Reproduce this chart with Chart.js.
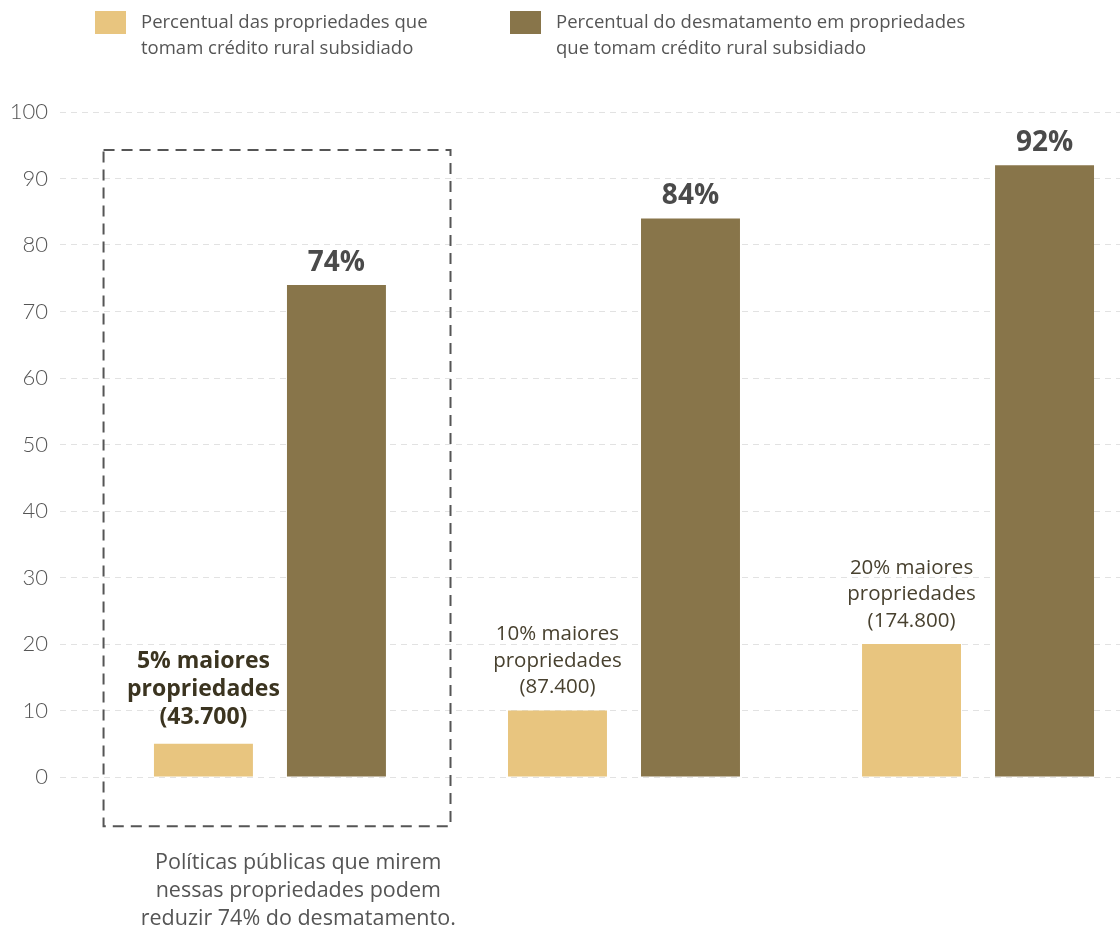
<!DOCTYPE html>
<html>
<head>
<meta charset="utf-8">
<script src="https://cdn.jsdelivr.net/npm/chart.js@4/dist/chart.umd.min.js"></script>
<style>
  body { margin: 0; background: #fff; font-family: "Open Sans", sans-serif; }
  #wrap { position: relative; width: 1120px; height: 933px; }
  .leg { position: absolute; top: 8px; color: #555; font-size: 18.5px; line-height: 26px; }
  .leg span { position: absolute; left: 0; top: 3px; width: 31px; height: 23px; }
  .leg div { margin-left: 46px; white-space: nowrap; }
</style>
</head>
<body>
<div id="wrap">
  <canvas id="grafico" width="1120" height="933"></canvas>
  <div class="leg" style="left:95px"><span style="background:#E8C57F"></span><div>Percentual das propriedades que<br>tomam crédito rural subsidiado</div></div>
  <div class="leg" style="left:510px"><span style="background:#88754A"></span><div>Percentual do desmatamento em propriedades<br>que tomam crédito rural subsidiado</div></div>
</div>
<script>
// dados
var grupos = [0, 1, 2];
var rotulos = [
  ['5% maiores', 'propriedades', '(43.700)'],
  ['10% maiores', 'propriedades', '(87.400)'],
  ['20% maiores', 'propriedades', '(174.800)']
];
var propriedades = [5, 10, 20];
var desmatamento = [74, 84, 92];
var yTicks = [0, 10, 20, 30, 40, 50, 60, 70, 80, 90, 100];
var nota = ['Políticas públicas que mirem', 'nessas propriedades podem', 'reduzir 74% do desmatamento.'];

// caixa tracejada em volta do primeiro grupo (em unidades dos eixos)
var caixa = { x0: -0.47, x1: 0.51, y0: -7.4, y1: 94.3 };
var notaX = 0.08;
var fonte = '"Open Sans"';

var rotulosPlugin = {
  id: 'rotulos',
  afterDatasetsDraw: function(chart) {
    var ctx = chart.ctx;
    var xs = chart.scales.x, ys = chart.scales.y;
    ctx.save();
    ctx.textAlign = 'center';
    ctx.textBaseline = 'middle';

    // valores em cima das barras escuras
    chart.getDatasetMeta(1).data.forEach(function(bar, i) {
      ctx.font = 'bold 28px ' + fonte;
      ctx.fillStyle = '#4a4a4a';
      ctx.fillText(desmatamento[i] + '%', bar.x, bar.y - 22);
    });

    // nomes dos grupos em cima das barras claras
    chart.getDatasetMeta(0).data.forEach(function(bar, i) {
      var linhas = rotulos[i];
      var lh, base;
      if (i == 0) {
        ctx.font = 'bold 23px ' + fonte;
        ctx.fillStyle = '#3b3420';
        lh = 28; base = bar.y - 26;
      } else {
        ctx.font = '20.5px ' + fonte;
        ctx.fillStyle = '#48412f';
        lh = 26.5; base = bar.y - 23;
      }
      for (var k = 0; k < linhas.length; k++) {
        ctx.fillText(linhas[k], bar.x, base - (linhas.length - 1 - k) * lh);
      }
    });

    // caixa tracejada
    var l = xs.getPixelForValue(caixa.x0), r = xs.getPixelForValue(caixa.x1);
    var t = ys.getPixelForValue(caixa.y1), b = ys.getPixelForValue(caixa.y0);
    ctx.strokeStyle = '#555';
    ctx.lineWidth = 2;
    ctx.setLineDash([11, 7]);
    ctx.strokeRect(l, t, r - l, b - t);
    ctx.setLineDash([]);

    // nota
    ctx.font = '21.5px ' + fonte;
    ctx.fillStyle = '#555';
    var nx = xs.getPixelForValue(notaX);
    for (var j = 0; j < nota.length; j++) {
      ctx.fillText(nota[j], nx, b + 37 + j * 28);
    }
    ctx.restore();
  }
};

var chartdata = {
  datasets: [
    {
      label: 'Percentual das propriedades que tomam crédito rural subsidiado',
      backgroundColor: '#E8C57F',
      data: grupos.map(function(g, i) { return { x: g, y: propriedades[i] }; })
    },
    {
      label: 'Percentual do desmatamento em propriedades que tomam crédito rural subsidiado',
      backgroundColor: '#88754A',
      data: grupos.map(function(g, i) { return { x: g, y: desmatamento[i] }; })
    }
  ]
};

var grafico = new Chart(document.getElementById('grafico'), {
  type: 'bar',
  data: chartdata,
  plugins: [rotulosPlugin],
  options: {
    responsive: false,
    animation: false,
    categoryPercentage: 0.7514,
    barPercentage: 0.744,
    layout: { padding: { top: 112, bottom: 156, left: 0, right: 0 } },
    plugins: { legend: { display: false }, tooltip: { enabled: false } },
    scales: {
      x: {
        type: 'linear',
        display: false,
        offset: false,
        min: -0.593,
        max: 2.401,
        afterBuildTicks: function(s) { s.ticks = grupos.map(function(g) { return { value: g }; }); }
      },
      y: {
        min: 0,
        max: 100,
        afterBuildTicks: function(s) { s.ticks = yTicks.map(function(v) { return { value: v }; }); },
        afterFit: function(s) { s.width = 60; },
        ticks: { padding: 12, color: '#555', font: { family: 'Lato', size: 22, weight: '300' } },
        grid: { color: '#e2e2e2', lineWidth: 1, drawTicks: false },
        border: { display: false, dash: [6, 5] }
      }
    }
  }
});
</script>
</body>
</html>
